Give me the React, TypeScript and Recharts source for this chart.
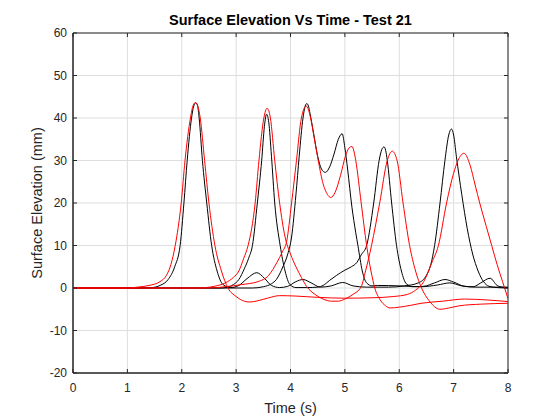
import React from 'react';
import {
  LineChart,
  Line,
  XAxis,
  YAxis,
  CartesianGrid,
  ReferenceArea,
} from 'recharts';

// gauge records, [time (s), elevation (mm)]
const gauge1Measured: [number, number][] = [
  [0, 0], [1.2, 0], [1.45, 0.1], [1.6, 0.6], [1.75, 2], [1.87, 5], [1.97, 10], [2.04, 20],
  [2.1, 30], [2.18, 40], [2.22, 42.8], [2.26, 43.6], [2.29, 42.9], [2.32, 40], [2.38, 30],
  [2.46, 20], [2.55, 10], [2.65, 4], [2.76, 0.8], [2.9, 0.1], [3.05, 0.6], [3.2, 2.2],
  [3.38, 3.6], [3.52, 2.3], [3.65, 0.6], [3.8, 0.1], [3.95, 0.4], [4.1, 1.5], [4.23, 2],
  [4.38, 1.2], [4.55, 0.2], [4.75, 0.5], [4.96, 1.3], [5.15, 0.5], [5.4, 0.2], [5.8, 0.2],
  [6.1, 0.5], [6.35, 1.2], [6.5, 3], [6.58, 5.5], [6.65, 10], [6.75, 20], [6.84, 30],
  [6.91, 36], [6.96, 37.4], [7.0, 36], [7.05, 31], [7.15, 22], [7.25, 14], [7.35, 8],
  [7.45, 4], [7.55, 1.5], [7.65, 0.4], [7.8, 0.1], [8, 0],
];

const gauge2Measured: [number, number][] = [
  [0, 0], [2.7, 0], [2.85, 0.2], [2.95, 0.8], [3.05, 2], [3.15, 4.5], [3.23, 7], [3.3, 10],
  [3.39, 20], [3.47, 30], [3.52, 38], [3.56, 40.9], [3.6, 39], [3.65, 31], [3.71, 20],
  [3.81, 10], [3.9, 4], [3.99, 0.8], [4.1, 0.1], [4.3, 0.1], [4.5, 0.2], [4.6, 0.6],
  [4.72, 1.8], [4.85, 3], [5.0, 4.2], [5.12, 5], [5.22, 6], [5.3, 7.8], [5.4, 10],
  [5.53, 20], [5.63, 30], [5.68, 32.6], [5.72, 33.2], [5.75, 32.4], [5.78, 30], [5.86, 20],
  [5.95, 10], [6.04, 4], [6.13, 1], [6.25, 0.3], [6.45, 0.4], [6.65, 1.2], [6.84, 2],
  [7.0, 1.4], [7.2, 0.4], [7.36, 0.3], [7.5, 1.2], [7.67, 2.3], [7.8, 0.6], [7.9, 0.2],
  [8, 0.1],
];

const gauge3Measured: [number, number][] = [
  [0, 0], [3.3, 0], [3.5, 0.3], [3.65, 1], [3.74, 2], [3.86, 5], [3.95, 8], [4.02, 12],
  [4.1, 22], [4.16, 31], [4.23, 40], [4.27, 42.8], [4.3, 43.4], [4.33, 42.8], [4.36, 41],
  [4.43, 36], [4.5, 31], [4.57, 28], [4.64, 27.2], [4.72, 28.5], [4.8, 31.5], [4.88, 35],
  [4.95, 36.3], [5.0, 33], [5.05, 28], [5.13, 19], [5.2, 13], [5.24, 10], [5.32, 4],
  [5.4, 1.2], [5.5, 0.5], [5.6, 0.6], [6.0, 0.5], [6.4, 0.3], [6.7, 0.7], [6.93, 1.2],
  [7.15, 0.5], [7.4, 0.2], [8, 0.2],
];

const gauge1Model: [number, number][] = [
  [0, 0], [1.0, 0], [1.18, 0.2], [1.4, 0.6], [1.6, 1.5], [1.72, 3], [1.8, 5.5], [1.88, 10],
  [1.99, 20], [2.06, 30], [2.16, 40], [2.21, 43], [2.25, 43.6], [2.29, 43], [2.34, 40],
  [2.42, 30], [2.5, 20], [2.61, 10], [2.73, 4], [2.85, 0], [3.0, -2], [3.15, -3.1],
  [3.25, -3.3], [3.4, -3], [3.6, -2.3], [3.8, -1.8], [4.1, -1.9], [4.5, -2.2], [5.0, -2.4],
  [5.5, -2.3], [5.9, -2], [6.15, -1.5], [6.3, -0.5], [6.45, 1.5], [6.6, 6], [6.72, 10],
  [6.87, 20], [7.0, 27], [7.08, 30], [7.19, 31.7], [7.3, 29], [7.4, 24], [7.48, 20],
  [7.6, 14.5], [7.7, 10], [7.8, 5.5], [7.9, 1.5], [8, -2.5],
];

const gauge2Model: [number, number][] = [
  [0, 0], [2.3, 0], [2.6, 0.4], [2.8, 1.2], [2.95, 2.5], [3.05, 4], [3.14, 7], [3.22, 10],
  [3.35, 20], [3.42, 30], [3.51, 40], [3.57, 42.3], [3.63, 40], [3.71, 30], [3.8, 20],
  [3.9, 12], [4.0, 8], [4.1, 5], [4.2, 2.5], [4.3, 0.3], [4.45, -1.5], [4.6, -2.6],
  [4.75, -3.1], [4.88, -3.1], [5.0, -2.6], [5.15, -1.5], [5.3, 0.3], [5.38, 4], [5.49, 10],
  [5.64, 20], [5.78, 30], [5.87, 32.2], [5.96, 30], [6.07, 20], [6.19, 10], [6.3, 4],
  [6.41, 0], [6.55, -3], [6.75, -5], [6.95, -4.6], [7.1, -4.2], [7.5, -3.8], [8, -3.6],
];

const gauge3Model: [number, number][] = [
  [0, 0], [2.5, 0], [2.8, 0.3], [3.1, 0.8], [3.4, 1.5], [3.6, 3], [3.75, 6], [3.85, 8.5],
  [3.93, 11], [4.02, 20], [4.11, 30], [4.2, 40], [4.29, 42.8], [4.37, 40], [4.44, 35],
  [4.51, 30], [4.6, 24.5], [4.68, 22], [4.74, 21.3], [4.82, 22.5], [4.92, 26.5], [5.01, 31],
  [5.08, 33], [5.13, 33.3], [5.17, 32], [5.2, 30], [5.3, 20], [5.4, 10], [5.48, 4],
  [5.55, 0], [5.65, -2.8], [5.75, -4.2], [5.83, -4.7], [6.0, -4.5], [6.2, -4.1],
  [6.4, -3.6], [6.8, -3.1], [7.2, -2.6], [7.6, -2.8], [8, -3.2],
];

const xTicks = [0, 1, 2, 3, 4, 5, 6, 7, 8];
const yTicks = [-20, -10, 0, 10, 20, 30, 40, 50, 60];

const measured = [gauge1Measured, gauge2Measured, gauge3Measured];
const modelled = [gauge1Model, gauge2Model, gauge3Model];

const toRows = (pts: [number, number][]) => pts.map(([t, v]) => ({ t, v }));

const FONT = '"Liberation Sans", Arial, Helvetica, sans-serif';
const AXIS = '#262626';
const PLOT_W = 435;
const PLOT_H = 340;

const XTick = (props: any) => {
  const { x, y, payload } = props;
  return (
    <g>
      <line x1={x} x2={x} y1={y} y2={y - 4} stroke={AXIS} />
      <line x1={x} x2={x} y1={y - PLOT_H} y2={y - PLOT_H + 4} stroke={AXIS} />
      <text x={x} y={y + 19} textAnchor="middle" fontSize={12} fill={AXIS} fontFamily={FONT}>
        {payload.value}
      </text>
    </g>
  );
};

const YTick = (props: any) => {
  const { x, y, payload } = props;
  return (
    <g>
      <line x1={x} x2={x + 4} y1={y} y2={y} stroke={AXIS} />
      <line x1={x + PLOT_W} x2={x + PLOT_W - 4} y1={y} y2={y} stroke={AXIS} />
      <text x={x - 6} y={y + 4} textAnchor="end" fontSize={12} fill={AXIS} fontFamily={FONT}>
        {payload.value}
      </text>
    </g>
  );
};

export default function App() {
  return (
    <div style={{ position: 'absolute', left: 0, top: 0, width: 560, height: 420, background: '#fff', fontFamily: FONT }}>
      <div
        style={{
          position: 'absolute',
          left: 73,
          width: PLOT_W,
          top: 11,
          textAlign: 'center',
          fontWeight: 'bold',
          fontSize: 14.5,
          color: '#000',
          lineHeight: '18px',
        }}
      >
        Surface Elevation Vs Time - Test 21
      </div>
      <LineChart width={560} height={420} margin={{ top: 33, right: 52, bottom: 0, left: 0 }}>
        <CartesianGrid stroke="#dedede" />
        <XAxis
          type="number"
          dataKey="t"
          domain={[0, 8]}
          ticks={xTicks}
          allowDataOverflow
          height={47}
          tickSize={0}
          tickMargin={0}
          tick={<XTick />}
          axisLine={{ stroke: AXIS }}
          label={{ value: 'Time (s)', position: 'insideBottom', offset: 7, fill: AXIS, fontSize: 14.5, fontFamily: FONT }}
        />
        <YAxis
          type="number"
          domain={[-20, 60]}
          ticks={yTicks}
          allowDataOverflow
          width={73}
          tickSize={0}
          tickMargin={0}
          tick={<YTick />}
          axisLine={{ stroke: AXIS }}
          label={{
            value: 'Surface Elevation (mm)',
            angle: -90,
            position: 'insideLeft',
            offset: 37,
            fill: AXIS,
            fontSize: 14.5,
            fontFamily: FONT,
            style: { textAnchor: 'middle' },
          }}
        />
        <ReferenceArea x1={0} x2={8} y1={-20} y2={60} fill="none" stroke={AXIS} strokeOpacity={1} />
        {measured.map((g, i) => (
          <Line
            key={`m${i}`}
            data={toRows(g)}
            dataKey="v"
            type="monotone"
            stroke="#000000"
            strokeWidth={1}
            dot={false}
            activeDot={false}
            isAnimationActive={false}
          />
        ))}
        {modelled.map((g, i) => (
          <Line
            key={`r${i}`}
            data={toRows(g)}
            dataKey="v"
            type="monotone"
            stroke="#ff0000"
            strokeWidth={1}
            dot={false}
            activeDot={false}
            isAnimationActive={false}
          />
        ))}
      </LineChart>
    </div>
  );
}
